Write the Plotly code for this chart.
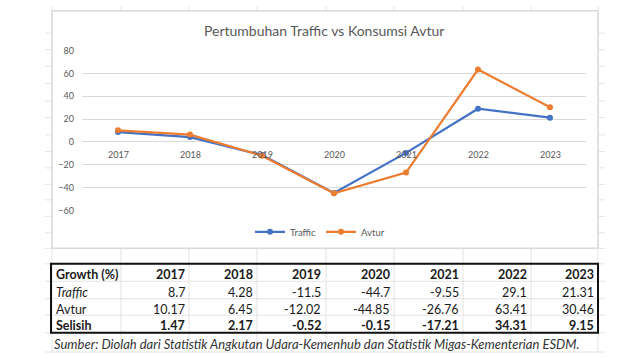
import plotly.graph_objects as go

W, H = 640, 358

years = ["2017", "2018", "2019", "2020", "2021", "2022", "2023"]
traffic = [8.7, 4.28, -11.5, -44.7, -9.55, 29.1, 21.31]
avtur = [10.17, 6.45, -12.02, -44.85, -26.76, 63.41, 30.46]
selisih = [1.47, 2.17, -0.52, -0.15, -17.21, 34.31, 9.15]
traffic_lbl = ["8.7", "4.28", "-11.5", "-44.7", "-9.55", "29.1", "21.31"]
avtur_lbl = ["10.17", "6.45", "-12.02", "-44.85", "-26.76", "63.41", "30.46"]
selisih_lbl = ["1.47", "2.17", "-0.52", "-0.15", "-17.21", "34.31", "9.15"]
title = "Pertumbuhan Traffic vs Konsumsi Avtur"
source = "Sumber: Diolah dari Statistik Angkutan Udara-Kemenhub dan Statistik Migas-Kementerian ESDM."

FONT = "Lato"
GREY = "#595959"
GRID = "#d9d9d9"


def px(x):
    return x / W


def py(y):
    return 1 - y / H


xs = list(range(len(years)))

fig = go.Figure()
fig.add_trace(go.Scatter(x=xs, y=traffic, name="Traffic", mode="lines+markers",
                         line=dict(color="#4472C4", width=2.25),
                         marker=dict(size=6, color="#4472C4")))
fig.add_trace(go.Scatter(x=xs, y=avtur, name="Avtur", mode="lines+markers",
                         line=dict(color="#ED7D31", width=2.25),
                         marker=dict(size=6, color="#ED7D31")))

shapes = []
# spreadsheet grid
col_lines = [52, 121, 189, 257, 326, 394, 463, 531, 598]
row_lines = [28, 45, 62, 80, 98, 115, 133, 150, 167, 184, 200, 217, 234, 250,
             266, 284, 302, 319, 337, 357]
for c in col_lines:
    shapes.append(dict(type="line", xref="paper", yref="paper", x0=px(c), x1=px(c),
                       y0=0, y1=1, line=dict(color="#e3e3e3", width=1), layer="below"))
for r in row_lines:
    shapes.append(dict(type="line", xref="paper", yref="paper", x0=px(45), x1=px(605),
                       y0=py(r), y1=py(r), line=dict(color="#e3e3e3", width=1), layer="below"))
# chart box
shapes.append(dict(type="rect", xref="paper", yref="paper", x0=px(52), x1=px(598),
                   y0=py(250), y1=py(5), fillcolor="white",
                   line=dict(color=GRID, width=1.5), layer="below"))
# table outer border
shapes.append(dict(type="rect", xref="paper", yref="paper", x0=px(51), x1=px(598),
                   y0=py(337), y1=py(266), line=dict(color="#111111", width=2)))

ann = []
ann.append(dict(text=title, xref="paper", yref="paper", x=px(324), y=py(25),
                showarrow=False, xanchor="center", yanchor="middle",
                font=dict(family=FONT, size=14, color=GREY)))
for i, yr in enumerate(years):
    ann.append(dict(text=yr, x=i, y=0, xref="x", yref="y", yshift=-13,
                    showarrow=False, xanchor="center", yanchor="middle",
                    font=dict(family=FONT, size=9, color=GREY)))

# table
col_right = [187, 255, 323, 392, 461, 529, 596]
rows = [
    ("<b>Growth (%)</b>", ["<b>%s</b>" % y for y in years], 277.5),
    ("<i>Traffic</i>", traffic_lbl, 295.5),
    ("Avtur", avtur_lbl, 313),
    ("<b>Selisih</b>", ["<b>%s</b>" % v for v in selisih_lbl], 329.5),
]
for label, vals, ry in rows:
    ann.append(dict(text=label, xref="paper", yref="paper", x=px(54), y=py(ry),
                    showarrow=False, xanchor="left", yanchor="middle",
                    font=dict(family=FONT, size=12.5, color="#1a1a1a")))
    for v, cr in zip(vals, col_right):
        ann.append(dict(text=v, xref="paper", yref="paper", x=px(cr), y=py(ry),
                        showarrow=False, xanchor="right", yanchor="middle",
                        font=dict(family=FONT, size=12.5, color="#1a1a1a")))
ann.append(dict(text="<i>%s</i>" % source, xref="paper", yref="paper", x=px(52), y=py(349),
                showarrow=False, xanchor="left", yanchor="middle",
                font=dict(family=FONT, size=13, color="#333333")))

fig.update_layout(
    width=W, height=H,
    margin=dict(l=0, r=0, t=0, b=0),
    paper_bgcolor="white", plot_bgcolor="rgba(0,0,0,0)",
    showlegend=True,
    legend=dict(orientation="h", x=0.5, xanchor="center", y=py(233), yanchor="middle",
                font=dict(family=FONT, size=9.5, color=GREY), bgcolor="rgba(0,0,0,0)",
                itemwidth=30),
    shapes=shapes, annotations=ann,
    xaxis=dict(range=[-0.5, 6.5], domain=[px(82), px(586)], showgrid=False,
               zeroline=False, showticklabels=False, showline=False, fixedrange=True),
    yaxis=dict(range=[-60, 80], domain=[py(211), py(46)], dtick=20,
               showgrid=True, gridcolor=GRID, gridwidth=1,
               zeroline=True, zerolinecolor=GRID, zerolinewidth=1,
               tickfont=dict(family=FONT, size=9, color=GREY), ticks="",
               ticklabelstandoff=7, showline=False, fixedrange=True),
)

fig.write_html("out.html", config={"displayModeBar": False},
               post_script="document.body.style.margin='0px';document.body.style.overflow='hidden';")
